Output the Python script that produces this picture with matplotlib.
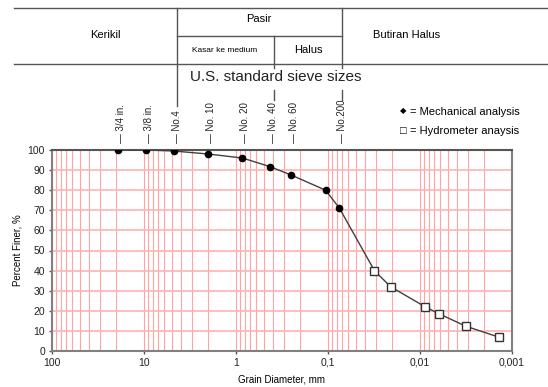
import matplotlib as mpl
import matplotlib.pyplot as plt
import matplotlib.transforms as mtransforms
import numpy as np

mpl.rcParams.update({'font.family': ['Liberation Sans', 'DejaVu Sans'],
                     'font.size': 7})

# sieve analysis (mm, % finer)
mech_d = [19.0, 9.5, 4.75, 2.0, 0.85, 0.425, 0.25, 0.106, 0.075]
mech_p = [100, 100, 99.5, 98, 96, 91.7, 87.5, 80, 71]
# hydrometer analysis
hydro_d = [0.0313, 0.0209, 0.0088, 0.0062, 0.00316, 0.00137]
hydro_p = [40, 32, 22, 18.5, 12.3, 6.8]

sieve_names = ["3/4 in.", "3/8 in.", "No.4", "No. 10", "No. 20", "No. 40", "No. 60", "No.200"]
sieve_d = [19.0, 9.5, 4.75, 2.0, 0.85, 0.425, 0.25, 0.075]

W, H = 548, 387
fig = plt.figure(figsize=(W / 100, H / 100), dpi=100)
ax = fig.add_axes([52 / W, 1 - 351 / H, 460 / W, 201 / H])


def px(x, y):
    return x / W, 1 - y / H


def hline(x0, x1, y):
    fig.add_artist(plt.Line2D([x0 / W, x1 / W], [1 - y / H, 1 - y / H],
                              color='#555555', lw=1))


def vline(x, y0, y1):
    fig.add_artist(plt.Line2D([x / W, x / W], [1 - y0 / H, 1 - y1 / H],
                              color='#555555', lw=1))


# grid
ax.set_xscale('log')
ax.set_xlim(100, 0.001)
ax.set_ylim(0, 100)
ax.set_yticks(np.arange(0, 101, 10))
ax.set_xticks([100, 10, 1, 0.1, 0.01, 0.001])
ax.set_xticklabels(['100', '10', '1', '0,1', '0,01', '0,001'])
ax.xaxis.set_minor_locator(mpl.ticker.LogLocator(base=10, subs=np.arange(2, 10)))
ax.xaxis.set_minor_formatter(mpl.ticker.NullFormatter())
ax.grid(True, which='both', axis='x', color='#ffa3a3', lw=0.8)
ax.grid(True, which='major', axis='y', color='#ffb3b3', lw=1.2)
ax.tick_params(which='minor', length=0)
ax.tick_params(which='major', length=2, width=1, color='#555555', pad=3,
               labelsize=7.5, labelcolor='#222222')
ax.set_axisbelow(True)
for s in ax.spines.values():
    s.set_color('#808080')
    s.set_linewidth(1.5)
ax.spines['top'].set_color('#555555')

# curve
all_d = mech_d + hydro_d
all_p = mech_p + hydro_p
ax.plot(all_d, all_p, color='#404040', lw=1, zorder=3)
ax.plot(mech_d, mech_p, 'o', color='black', ms=4.5, zorder=4)
ax.plot(hydro_d, hydro_p, 's', mfc='white', mec='#333333', mew=1, ms=6, zorder=4)

ax.set_xlabel("Grain Diameter, mm", fontsize=7, labelpad=5)
ax.set_ylabel("Percent Finer, %", fontsize=7, labelpad=4)

# sieve labels above the plot
trans = mtransforms.blended_transform_factory(ax.transData, fig.transFigure)
trans = mtransforms.offset_copy(trans, fig=fig, x=3, y=0, units='dots')
for name, d in zip(sieve_names, sieve_d):
    ax.text(d, 1 - 143 / H, "\u2014 " + name, transform=trans, rotation=90,
            ha='center', va='bottom', fontsize=7, color='#222222', clip_on=False)

# header table
hline(14, 548, 7.5)
hline(14, 548, 64)
hline(177, 342, 36)
vline(177, 7.5, 106)
vline(274, 36, 68)
vline(342, 7.5, 68)
vline(274, 90, 100)
vline(342, 90, 100)
fig.text(*px(105, 35), "Kerikil", ha='center', va='center', fontsize=8)
fig.text(*px(259, 19), "Pasir", ha='center', va='center', fontsize=8)
fig.text(*px(225, 50), "Kasar ke medium", ha='center', va='center', fontsize=6)
fig.text(*px(308, 50), "Halus", ha='center', va='center', fontsize=8)
fig.text(*px(407, 35), "Butiran Halus", ha='center', va='center', fontsize=8)
fig.text(*px(276, 77), "U.S. standard sieve sizes", ha='center', va='center',
         fontsize=11, color='#222222')

# legend
fig.text(*px(403, 112), "\u25c6", ha='center', va='center', fontsize=6)
fig.text(*px(410, 112), "= Mechanical analysis", ha='left', va='center', fontsize=8)
fig.text(*px(403, 131), "\u25a1", ha='center', va='center', fontsize=8)
fig.text(*px(410, 131), "= Hydrometer anaysis", ha='left', va='center', fontsize=8)

fig.savefig('out.png', dpi=100)
